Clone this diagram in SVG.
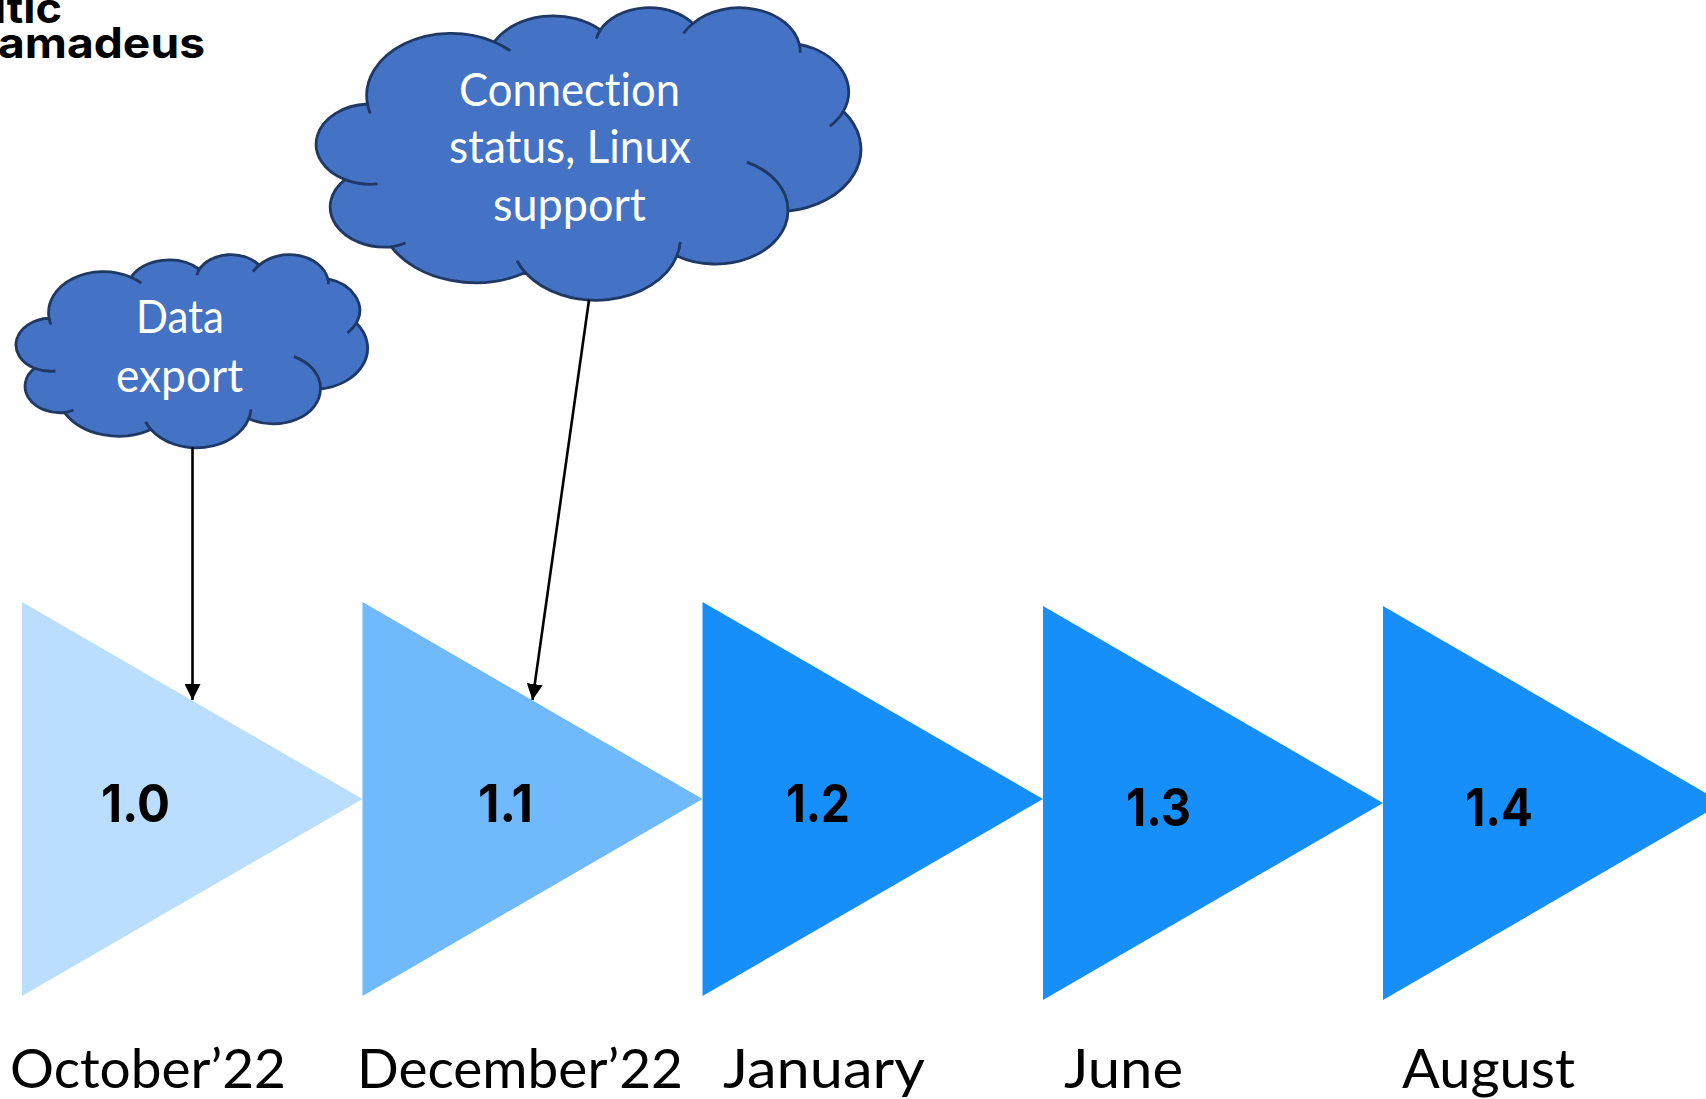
<svg xmlns="http://www.w3.org/2000/svg" width="1706" height="1099" viewBox="0 0 1706 1099">
<style>
.cloud{fill:#4472C4;stroke:#1F3864;stroke-width:2.8}
.crease{fill:none;stroke:#1F3864;stroke-width:2.8}
.cloudtext{font-family:"Lato","Liberation Sans",sans-serif;font-size:46px;fill:#fff;font-variant-ligatures:none}
.ver{font-family:"Inter","Liberation Sans",sans-serif;font-weight:700;font-size:52px;fill:#000}
.date{font-family:"Lato","Liberation Sans",sans-serif;font-size:54px;fill:#000}
.logo{font-family:"Inter","Liberation Sans",sans-serif;font-weight:700;font-size:42px;fill:#000}
.conn{fill:none;stroke:#000;stroke-width:2.6}
</style>
<defs>
<marker id="arrow" markerUnits="userSpaceOnUse" markerWidth="16" markerHeight="16" refX="16" refY="8" orient="auto">
<path d="M0 0L16 8L0 16Z" fill="#000"/>
</marker>
<path id="cloudBody" vector-effect="non-scaling-stroke" d="M3900 14370A6753 9190 0 0 1 14005 5202A5333 7267 0 0 1 22456 3433A4365 5945 0 0 1 29833 2484A4857 6595 0 0 1 38318 5578A5333 7273 0 0 1 41819 15462A6775 9220 0 0 1 37405 30206A5785 7867 0 0 1 28556 36816A6752 9215 0 0 1 16479 39265A7720 10543 0 0 1 5802 35471A4360 5918 0 0 1 2109 25549A4345 5945 0 0 1 3900 14370Z"/>
<path id="cloudCrease" vector-effect="non-scaling-stroke" d="M4693 26177A4345 5945 0 0 1 2109 25549M6928 34899A4360 5918 0 0 1 5802 35471M16479 39265A6752 9215 0 0 1 15813 37527M28827 34751A6752 9215 0 0 1 28556 36816M34129 22954A5785 7867 0 0 1 37405 30206M41819 15462A5333 7273 0 0 1 40748 17654M38318 5578A4857 6595 0 0 1 38390 6800M29078 3952A4857 6595 0 0 1 29833 2484M22141 4720A4365 5945 0 0 1 22456 3433M14005 5202A6753 9190 0 0 1 15286 6523M4127 15789A6753 9190 0 0 1 3900 14370"/>
</defs>
<rect width="1706" height="1099" fill="#fff"/>
<g id="logo">
<text class="logo" x="-6" y="23" textLength="68" lengthAdjust="spacingAndGlyphs">ltic</text>
<text class="logo" x="-2" y="58" textLength="207" lengthAdjust="spacingAndGlyphs">amadeus</text>
</g>
<g id="release-1-0">
<polygon points="22,602 362.5,799 22,996" fill="#BBDEFF"/>
<text class="ver" x="101" y="822" textLength="69" lengthAdjust="spacingAndGlyphs">1.0</text>
<text class="date" x="10" y="1088" textLength="276" lengthAdjust="spacingAndGlyphs">October’22</text>
</g>
<g id="release-1-1">
<polygon points="362.5,602 702.5,799 362.5,996" fill="#71B9FD"/>
<text class="ver" x="478" y="822" textLength="55" lengthAdjust="spacingAndGlyphs">1.1</text>
<text class="date" x="357" y="1088" textLength="326" lengthAdjust="spacingAndGlyphs">December’22</text>
</g>
<g id="release-1-2">
<polygon points="702.5,602 1043,799 702.5,996" fill="#178FFA"/>
<text class="ver" x="786" y="822" textLength="64" lengthAdjust="spacingAndGlyphs">1.2</text>
<text class="date" x="723" y="1088" textLength="202" lengthAdjust="spacingAndGlyphs">January</text>
</g>
<g id="release-1-3">
<polygon points="1043,606 1383,803 1043,1000" fill="#178FFA"/>
<text class="ver" x="1126" y="826" textLength="65" lengthAdjust="spacingAndGlyphs">1.3</text>
<text class="date" x="1064" y="1088" textLength="119" lengthAdjust="spacingAndGlyphs">June</text>
</g>
<g id="release-1-4">
<polygon points="1383,606 1723,803 1383,1000" fill="#178FFA"/>
<text class="ver" x="1465" y="826" textLength="68" lengthAdjust="spacingAndGlyphs">1.4</text>
<text class="date" x="1402" y="1088" textLength="173" lengthAdjust="spacingAndGlyphs">August</text>
</g>
<g id="cloud-data-export">
<g transform="translate(17.5 254) scale(.0081 .00447)">
<use href="#cloudBody" class="cloud"/>
<use href="#cloudCrease" class="crease"/>
</g>
<text class="cloudtext" x="136" y="333" textLength="88" lengthAdjust="spacingAndGlyphs">Data</text>
<text class="cloudtext" x="116" y="392" textLength="127" lengthAdjust="spacingAndGlyphs">export</text>
</g>
<g id="cloud-connection">
<g transform="translate(318.5 6.7) scale(.01255 .00677)">
<use href="#cloudBody" class="cloud"/>
<use href="#cloudCrease" class="crease"/>
</g>
<text class="cloudtext" x="459" y="106" textLength="221" lengthAdjust="spacingAndGlyphs">Connection</text>
<text class="cloudtext" x="449" y="163" textLength="242" lengthAdjust="spacingAndGlyphs">status, Linux</text>
<text class="cloudtext" x="493" y="221" textLength="153" lengthAdjust="spacingAndGlyphs">support</text>
</g>
<g id="connectors">
<line class="conn" x1="192.5" y1="447.5" x2="192.5" y2="700" marker-end="url(#arrow)"/>
<line class="conn" x1="589" y1="300" x2="532.5" y2="700" marker-end="url(#arrow)"/>
</g>
</svg>
